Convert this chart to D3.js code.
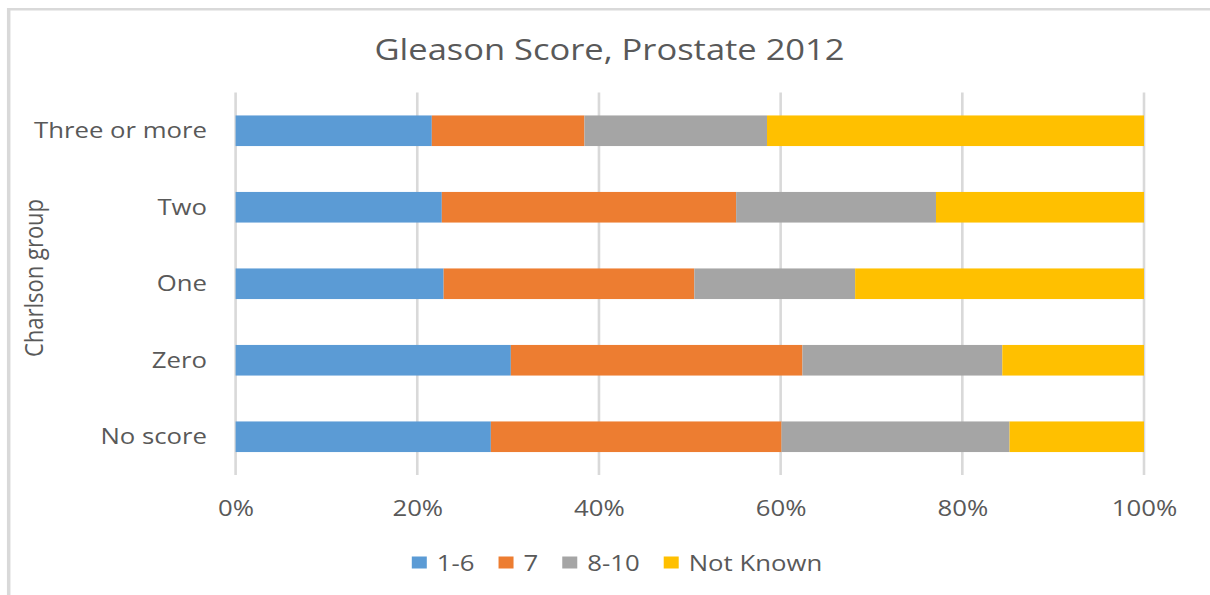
<!DOCTYPE html>
<html>
<head>
<meta charset="utf-8">
<script src="https://cdn.jsdelivr.net/npm/d3@7"></script>
<style>
  html, body { margin: 0; padding: 0; background: #ffffff; }
  svg { display: block; }
  text { font-family: "Open Sans", "Noto Sans", sans-serif; fill: #595959; }
</style>
</head>
<body>
<svg id="chart" width="1210" height="595"></svg>
<script>
// ---- data ----
const categories = ["Three or more", "Two", "One", "Zero", "No score"];
const seriesNames = ["1-6", "7", "8-10", "Not Known"];
const v16      = [21.6, 22.7, 22.9, 30.3, 28.1];
const v7       = [16.8, 32.4, 27.6, 32.1, 32.0];
const v810     = [20.1, 22.0, 17.7, 22.0, 25.1];
const vUnknown = [41.5, 22.9, 31.8, 15.6, 14.8];
const xTicks = [0, 20, 40, 60, 80, 100];
const titleText = "Gleason Score, Prostate 2012";
const yAxisTitle = "Charlson group";
const colors = ["#5b9bd5", "#ed7d31", "#a5a5a5", "#ffc000"];

// ---- layout ----
const W = 1210, H = 595;
const SX = 1.17; // horizontal text stretch seen in reference
const plot = { left: 235.6, right: 1144, top: 92.5, bottom: 475 };

const svg = d3.select("#chart");

// chart border
svg.append("line").attr("x1", 8.7).attr("x2", 8.7).attr("y1", 8).attr("y2", H)
  .attr("stroke", "#d9d9d9").attr("stroke-width", 3.5);
svg.append("line").attr("x1", 7).attr("x2", W).attr("y1", 9.3).attr("y2", 9.3)
  .attr("stroke", "#d9d9d9").attr("stroke-width", 2.6);

const x = d3.scaleLinear().domain([0, 100]).range([plot.left, plot.right]);
const y = d3.scaleBand().domain(categories).range([plot.top, plot.bottom])
  .paddingInner(0.6).paddingOuter(0.3);

// gridlines
svg.append("g").selectAll("line").data(xTicks).join("line")
  .attr("x1", d => x(d)).attr("x2", d => x(d))
  .attr("y1", plot.top).attr("y2", plot.bottom)
  .attr("stroke", "#d9d9d9").attr("stroke-width", 2.6);

// stacked data
const rows = categories.map((c, i) => ({ cat: c, "1-6": v16[i], "7": v7[i], "8-10": v810[i], "Not Known": vUnknown[i] }));
const stack = d3.stack().keys(seriesNames)(rows);

svg.append("g").selectAll("g").data(stack).join("g")
  .attr("fill", (d, i) => colors[i])
  .selectAll("rect").data(d => d).join("rect")
  .attr("x", d => x(d[0]))
  .attr("width", d => x(d[1]) - x(d[0]))
  .attr("y", d => y(d.data.cat))
  .attr("height", y.bandwidth());

// helper for stretched text
function stretchedText(g, tx, ty, str, size, anchor, rot) {
  return g.append("text")
    .attr("transform", `translate(${tx},${ty}) scale(${SX},1)` + (rot ? ` rotate(${rot})` : ""))
    .attr("text-anchor", anchor)
    .attr("font-size", size)
    .text(str);
}

// title
svg.append("text")
  .attr("transform", `translate(609.5,60) scale(1.15,1)`)
  .attr("text-anchor", "middle")
  .attr("font-size", 30)
  .text(titleText);

// x axis tick labels
const xAxis = d3.axisBottom(x).tickValues(xTicks).tickFormat(d => d + "%").tickSize(0).tickPadding(0);
const xg = svg.append("g").attr("transform", `translate(0,${plot.bottom})`).call(xAxis);
xg.select(".domain").remove();
xg.selectAll(".tick text")
  .attr("y", 0).attr("dy", null)
  .attr("transform", "translate(0,40.5) scale(" + SX + ",1)")
  .attr("font-size", 22).attr("fill", "#595959")
  .attr("font-family", '"Open Sans", sans-serif');

// y axis category labels
const yAxis = d3.axisLeft(y).tickSize(0).tickPadding(0);
const yg = svg.append("g").attr("transform", `translate(207,0)`).call(yAxis);
yg.select(".domain").remove();
yg.selectAll(".tick text")
  .attr("x", 0).attr("dy", "0.35em")
  .attr("transform", "scale(" + SX + ",1)")
  .attr("font-size", 22).attr("fill", "#595959")
  .attr("font-family", '"Open Sans", sans-serif');

// y axis title
stretchedText(svg, 43, 278, yAxisTitle, 22, "middle", -90);

// legend
const lg = svg.append("g");
const items = seriesNames.map((name, i) => {
  const t = lg.append("text").attr("font-size", 22).text(name);
  const w = t.node().getComputedTextLength() * SX;
  return { name, i, t, w };
});
const sq = 15, sqGap = 10, itemGap = 24;
let total = 0;
items.forEach((it, k) => { total += sq + sqGap + it.w + (k < items.length - 1 ? itemGap : 0); });
let cx = 617 - total / 2;
items.forEach(it => {
  lg.append("rect").attr("x", cx).attr("y", 556.5).attr("width", sq).attr("height", 12)
    .attr("fill", colors[it.i]);
  it.t.attr("transform", `translate(${cx + sq + sqGap},570.7) scale(${SX},1)`);
  cx += sq + sqGap + it.w + itemGap;
});
</script>
</body>
</html>
